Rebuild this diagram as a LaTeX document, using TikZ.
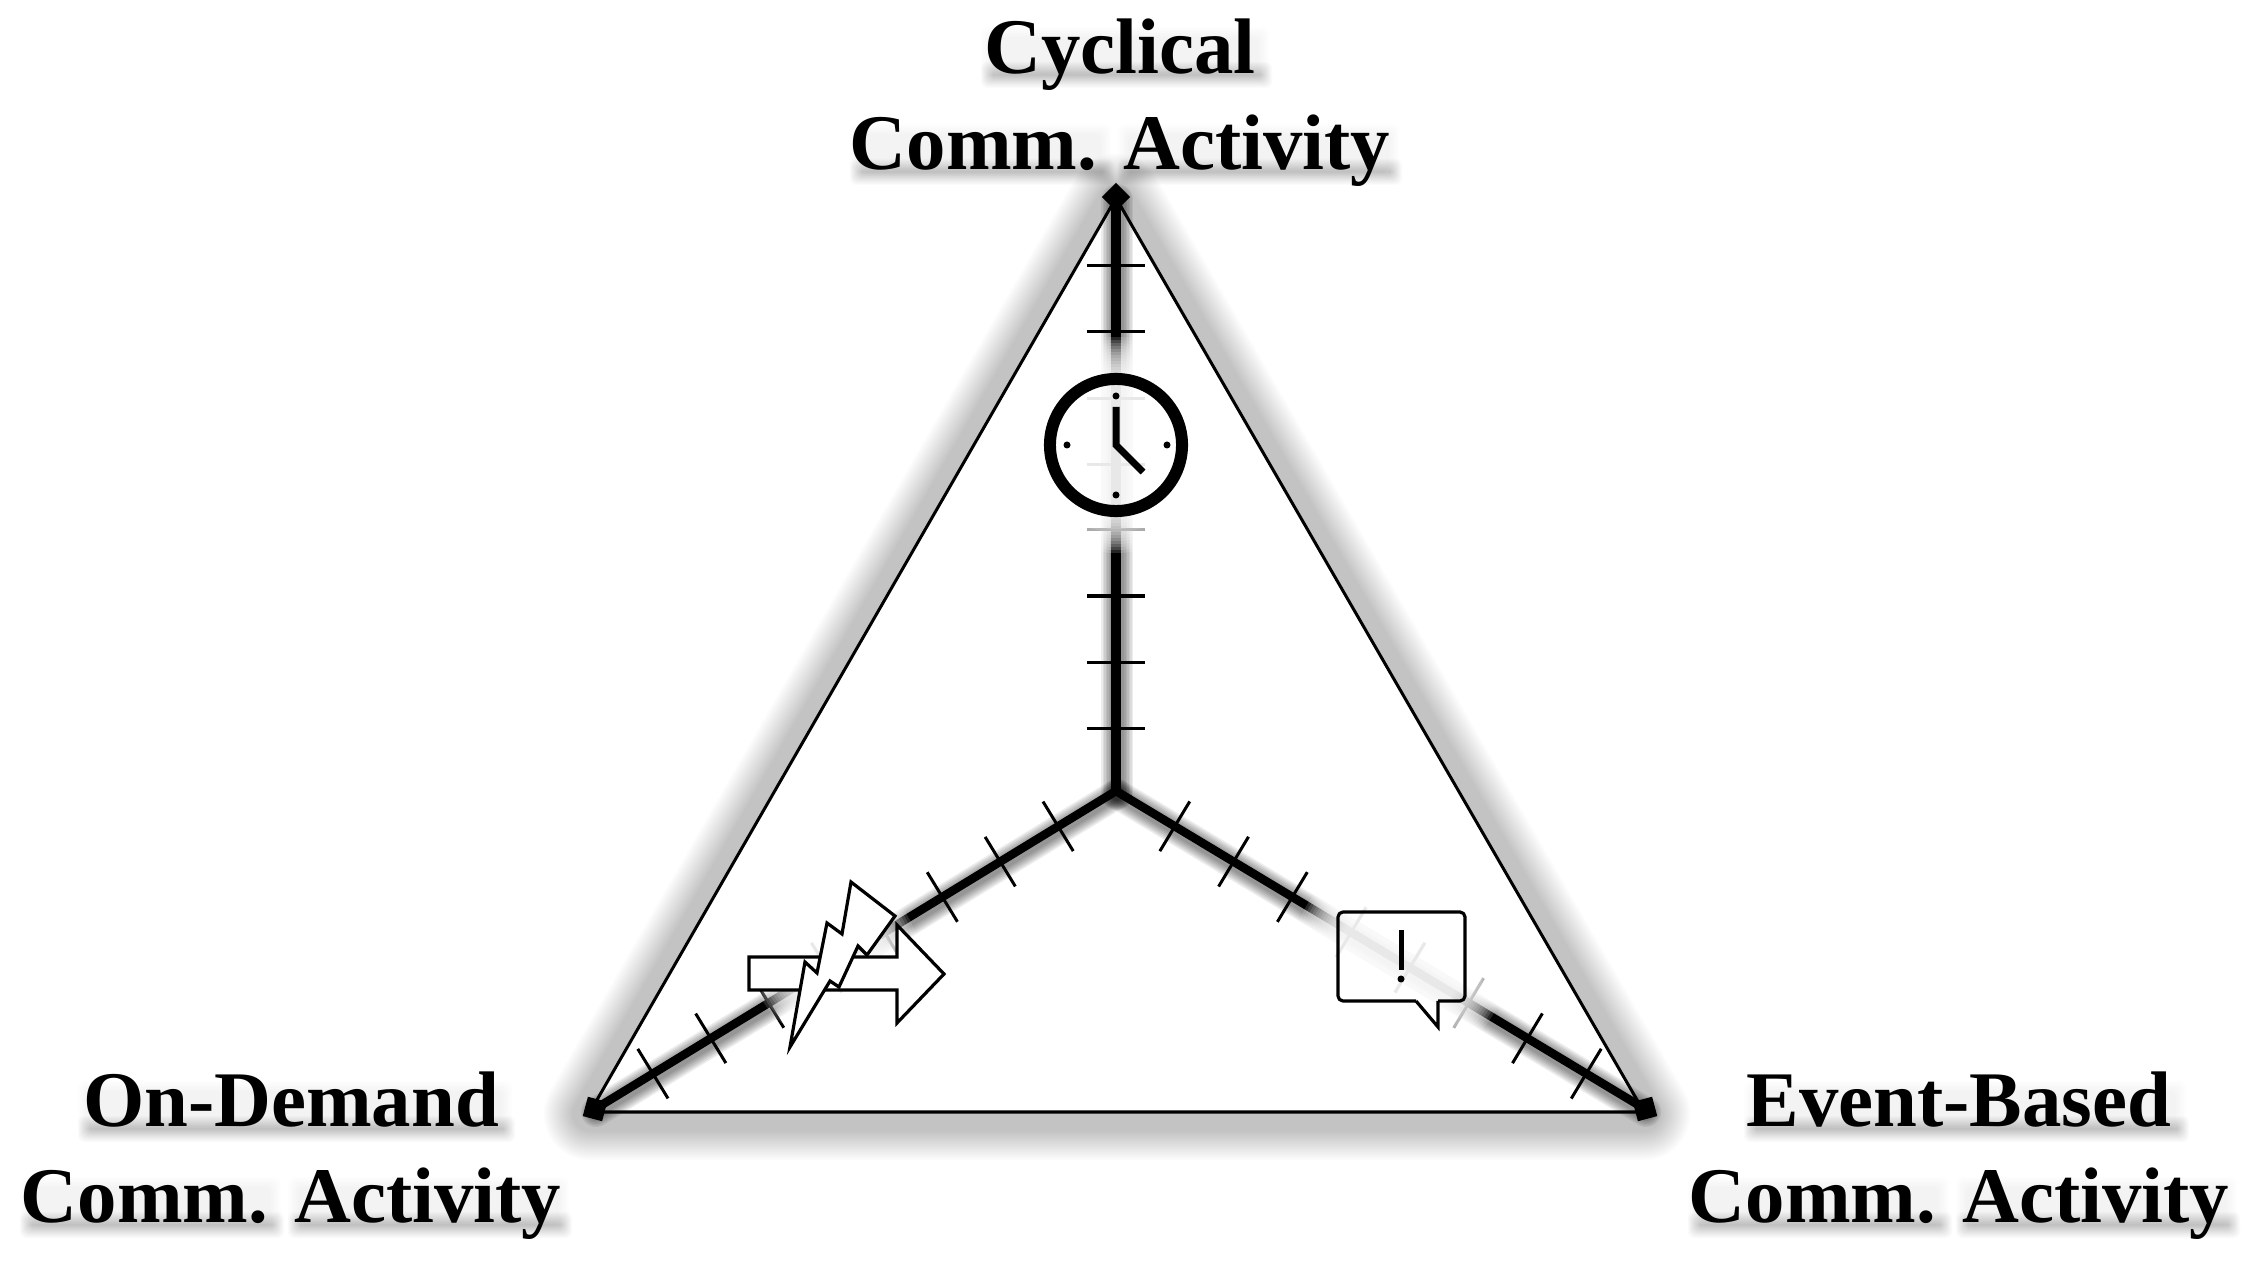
\documentclass[tikz,border=0pt]{standalone}
\usepackage{fontspec}
\setmainfont{Liberation Serif}
\usetikzlibrary{calc}
\tikzset{
  x=0.01cm,y=-0.01cm,
  edgeline/.style={line width=0.03cm,line join=round},
  axisline/.style={line width=0.085cm},
  axisthick/.style={line width=0.105cm},
  tickline/.style={line width=0.03cm},
  iconline/.style={line width=0.032cm,draw=black,fill=white,line join=miter},
  vertexbox/.style={fill=black,inner sep=0pt,minimum size=0.2cm,outer sep=0pt},
  labeltext/.style={font=\bfseries\fontsize{22.4pt}{27.3pt}\selectfont,align=center,inner sep=0pt},
}
\newcommand{\softglow}[3]{%
  \foreach \rr in {#3}{\fill[white,opacity=0.15] (#1,#2) circle ({\rr*0.01cm});}}
\newcommand{\fuzzyaxis}[3]{%
  \foreach \ww in {#3}{\draw[black,opacity=0.07,line width=\ww*0.01cm,line cap=round] ($(#1)+(1,3)$) -- ($(#2)+(1,3)$);}}
\newcommand{\ticksalong}[2]{%
  \foreach \k in {1,...,8}{%
    \coordinate (p#2\k) at ($(#1)!\k/9!(#2)$);
    \draw[tickline] ($(p#2\k)!0.29cm!90:(#2)$) -- ($(p#2\k)!0.29cm!-90:(#2)$);}}
% soft shadow under one word: #1,#2 = left and right, #3 = baseline
\newcommand{\wordshade}[3]{%
  \foreach \g in {0,1,...,12}{%
    \fill[black,opacity=0.016,rounded corners=0.06cm] (#1+8-\g,#3+1-\g) rectangle (#2+3+\g,#3+3+\g);}
  \foreach \g in {0,2,...,10}{%
    \fill[black,opacity=0.007,rounded corners=0.07cm] (#1+6-\g,#3-36-\g) rectangle (#2+2+\g,#3+\g);}}
% the two words of "Comm. Activity", from its left edge #1 and baseline #2
\newcommand{\commshade}[2]{%
  \wordshade{#1}{#1+245}{#2}%
  \wordshade{#1+268}{#1+533}{#2}}
\begin{document}
\begin{tikzpicture}
\useasboundingbox (0,0) rectangle (2247,1261);
\fill[white] (0,0) rectangle (2247,1261);
\coordinate (A) at (1116,198);
\coordinate (B) at (590,1112);
\coordinate (C) at (1644,1112);
\coordinate (O) at (1116,791);
\coordinate (T) at (1116,197);
\coordinate (L) at (595,1109);
\coordinate (R) at (1645,1109);
\coordinate (Oa) at (1116,794);
\coordinate (Ta) at (1116,200);
% triangle shadow
\foreach \r in {46,44,...,18}{
  \draw[black,opacity=0.015,line width=2*\r*0.01cm,line join=round] ($(A)+(0,2)$) -- ($(B)+(0,2)$) -- ($(C)+(0,2)$) -- cycle;}
\fill[white] (A) -- (B) -- (C) -- cycle;
\draw[edgeline] (A) -- (B) -- (C) -- cycle;
% axes
\fuzzyaxis{O}{T}{32,29,26,23,20,17,14}
\fuzzyaxis{O}{L}{30,27,24,21,18,15,12}
\fuzzyaxis{O}{R}{30,27,24,21,18,15,12}
\draw[axisthick] (O) -- (T);
\draw[axisline] (O) -- (L);
\draw[axisline] (O) -- (R);
\ticksalong{Oa}{Ta}
\ticksalong{O}{L}
\ticksalong{O}{R}
% soft white glows that wash out the axes behind the icons
\softglow{1116}{445}{108,105,...,63}
\softglow{835}{958}{84,81,...,39}
\softglow{1401}{958}{108,105,...,63}
% vertices
\node[vertexbox,rotate=45] (vt) at (T) {};
\node[vertexbox,rotate=-15] (vl) at (L) {};
\node[vertexbox,rotate=15] (vr) at (R) {};
% clock
\node[circle,draw=black,fill=none,line width=0.12cm,inner sep=0pt,minimum size=1.32cm] (clock) at (1116,445) {};
\foreach \px/\py in {1116/396,1116/495,1067/445,1167/445}{\fill (\px,\py) circle (0.035cm);}
\draw[line width=0.07cm,line join=miter] (1116,407) -- (1116,445) -- (1143,472);
% arrow and bolt
\draw[iconline] (749,957) -- (897,957) -- (897,925) -- (944,974) -- (897,1023) -- (897,990) -- (749,990) -- cycle;
\draw[iconline] (851,882) -- (895,916) -- (867,955) -- (858,946) -- (839,987) -- (830,981) -- (790,1047) -- (805,962) -- (817,973) -- (827,923) -- (842,934) -- cycle;
% speech bubble
\draw[line width=0.032cm,line join=round,rounded corners=0.05cm] (1416,1001) -- (1338,1001) -- (1338,912) -- (1465,912) -- (1465,1001) -- (1438,1001);
\draw[line width=0.032cm,line join=miter] (1416,1001) -- (1438,1027) -- (1438,1001);
\draw[line width=0.05cm] (1401,930) -- (1401,970);
\fill (1401,979) circle (0.035cm);
% label shadows
\wordshade{985}{1257}{73}
\commshade{854}{170}
\wordshade{82}{500}{1127}
\commshade{24}{1223}
\wordshade{1748}{2174}{1127}
\commshade{1692}{1223}
% labels
\node[labeltext] (cyc) at (1120,103) {Cyclical\\Comm. Activity};
\node[labeltext] (ond) at (291,1156) {On-Demand\\Comm. Activity};
\node[labeltext] (evt) at (1959,1156) {Event-Based\\Comm. Activity};
\end{tikzpicture}
\end{document}
